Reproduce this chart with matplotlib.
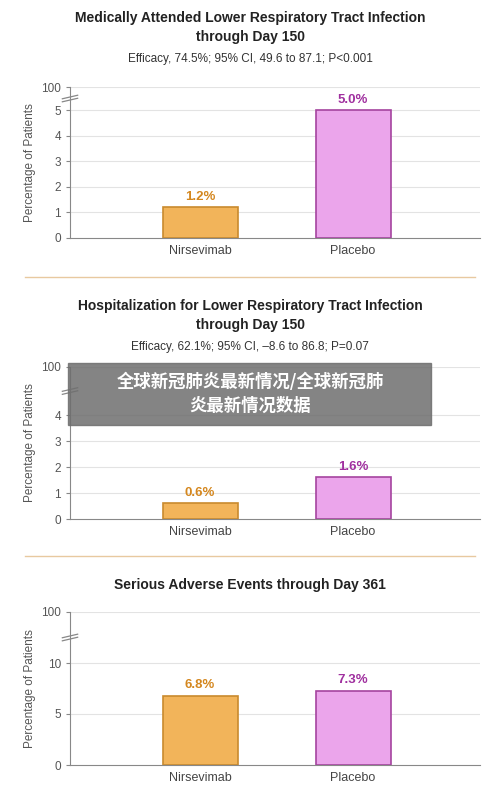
import matplotlib.pyplot as plt

plt.rcParams['font.family'] = ['Liberation Sans', 'DejaVu Sans']

groups = ["Nirsevimab", "Placebo"]
titles = [
    "Medically Attended Lower Respiratory Tract Infection\nthrough Day 150",
    "Hospitalization for Lower Respiratory Tract Infection\nthrough Day 150",
    "Serious Adverse Events through Day 361",
]
subtitles = [
    "Efficacy, 74.5%; 95% CI, 49.6 to 87.1; P<0.001",
    "Efficacy, 62.1%; 95% CI, \u20138.6 to 86.8; P=0.07",
    "",
]
values = [[1.2, 5.0], [0.6, 1.6], [6.8, 7.3]]
yticks = [[0, 1, 2, 3, 4, 5], [0, 1, 2, 3, 4], [0, 5, 10]]
break_pos = [5.9, 5.85, 15.0]   # where the "100" tick sits on the broken axis

# pixel layout: (top of axis, bottom of axis, title y)
layout = [(87, 238, 18), (367, 519, 306), (612, 765, 585)]
W, H = 500, 790
fills = ["#F2B45A", "#EBA5EB"]
edges = ["#C98A2E", "#A5449F"]
label_colors = ["#D4871F", "#A0309F"]

fig = plt.figure(figsize=(5, 7.9), dpi=100)
fig.patch.set_facecolor("white")

for i in range(3):
    top, bot, ty = layout[i]
    ax = fig.add_axes([70 / W, 1 - bot / H, 410 / W, (bot - top) / H])
    ax.set_xlim(-0.85, 1.83)
    ax.set_ylim(0, break_pos[i])
    ticks = yticks[i] + [break_pos[i]]
    ax.set_yticks(ticks)
    ax.set_yticklabels([str(t) for t in yticks[i]] + ["100"], fontsize=8.5, color="#555555")
    for t in ticks[1:]:
        ax.axhline(t, color="#E3E3E3", lw=0.8, zorder=0)
    ax.bar([0, 1], values[i], width=0.49, color=fills, edgecolor=edges, lw=1.2, zorder=2)
    for x, v in enumerate(values[i]):
        ax.text(x, v + break_pos[i] * 0.03, f"{v:.1f}%", ha="center", va="bottom",
                fontsize=9.5, color=label_colors[x], weight="semibold")
    ax.set_xticks([0, 1])
    ax.set_xticklabels(groups, fontsize=9, color="#444444")
    ax.tick_params(axis="x", length=0, pad=5)
    ax.tick_params(axis="y", length=3, color="#888888")
    for s in ["top", "right"]:
        ax.spines[s].set_visible(False)
    ax.spines["left"].set_color("#888888")
    ax.spines["bottom"].set_color("#888888")
    ax.set_ylabel("Percentage of Patients", fontsize=8.5, color="#555555")
    # axis break marks
    ymid = (yticks[i][-1] + break_pos[i]) / 2
    for dy in (-0.06, 0.06):
        d = dy * break_pos[i] / 6
        ax.plot([-0.9, -0.8], [ymid + d - 0.07 * break_pos[i] / 6, ymid + d + 0.07 * break_pos[i] / 6],
                color="#888888", lw=0.9, clip_on=False, zorder=3)
    fig.text(0.5, 1 - (ty - 7) / H, titles[i], ha="center", va="top", fontsize=10,
             color="#222222", linespacing=1.45, weight="semibold")
    if subtitles[i]:
        fig.text(0.5, 1 - (ty + 41) / H, subtitles[i], ha="center", va="center",
                 fontsize=8.5, color="#333333")

for y in (277, 556):
    fig.add_artist(plt.Line2D([0.05, 0.95], [1 - y / H] * 2, color="#E8C9A0", lw=1))

# watermark banner
fig.add_artist(plt.Rectangle((68 / W, 1 - 425 / H), 363 / W, 62 / H, color="#6E6E6E",
                             alpha=0.85, zorder=10))
fig.text(0.5, 1 - 394 / H, "全球新冠肺炎最新情况/全球新冠肺\n炎最新情况数据", ha="center", va="center",
         fontsize=12.5, color="white", weight="bold", zorder=11, linespacing=1.4,
         family=["Noto Sans CJK SC", "DejaVu Sans"])

fig.savefig("out.png", dpi=100)
